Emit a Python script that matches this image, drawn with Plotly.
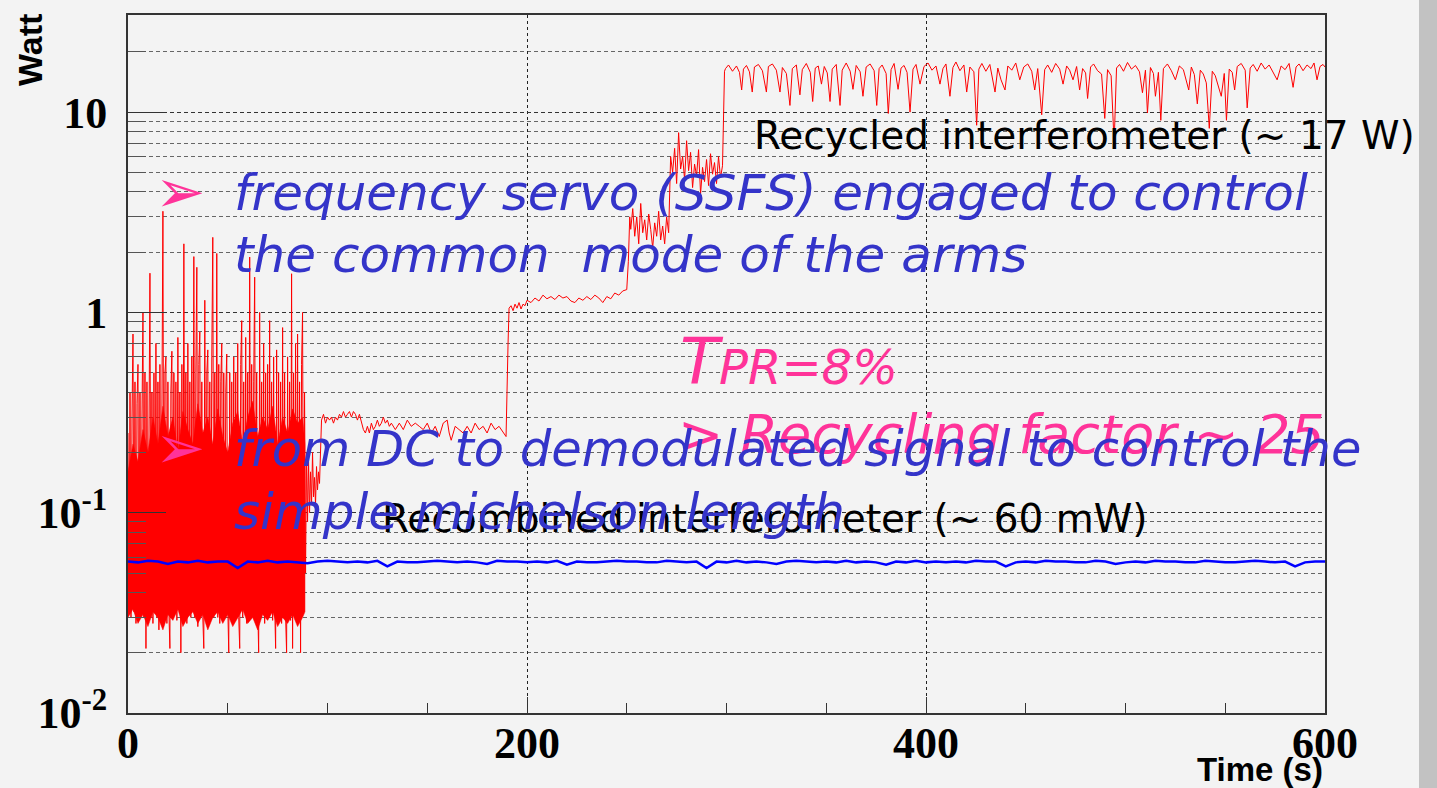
import plotly.graph_objects as go

# ---------------- data ----------------
# noisy start (0-89 s), sampled every 0.5 s
redA_t = [0, 0.5, 1, 1.5, 2, 2.5, 3, 3.5, 4, 4.5, 5, 5.5, 6, 6.5, 7, 7.5, 8, 8.5, 9, 9.5,
          10, 10.5, 11, 11.5, 12, 12.5, 13, 13.5, 14, 14.5, 15, 15.5, 16, 16.5, 17, 17.5, 18, 18.5, 19, 19.5,
          20, 20.5, 21, 21.5, 22, 22.5, 23, 23.5, 24, 24.5, 25, 25.5, 26, 26.5, 27, 27.5, 28, 28.5, 29, 29.5,
          30, 30.5, 31, 31.5, 32, 32.5, 33, 33.5, 34, 34.5, 35, 35.5, 36, 36.5, 37, 37.5, 38, 38.5, 39, 39.5,
          40, 40.5, 41, 41.5, 42, 42.5, 43, 43.5, 44, 44.5, 45, 45.5, 46, 46.5, 47, 47.5, 48, 48.5, 49, 49.5,
          50, 50.5, 51, 51.5, 52, 52.5, 53, 53.5, 54, 54.5, 55, 55.5, 56, 56.5, 57, 57.5, 58, 58.5, 59, 59.5,
          60, 60.5, 61, 61.5, 62, 62.5, 63, 63.5, 64, 64.5, 65, 65.5, 66, 66.5, 67, 67.5, 68, 68.5, 69, 69.5,
          70, 70.5, 71, 71.5, 72, 72.5, 73, 73.5, 74, 74.5, 75, 75.5, 76, 76.5, 77, 77.5, 78, 78.5, 79, 79.5,
          80, 80.5, 81, 81.5, 82, 82.5, 83, 83.5, 84, 84.5, 85, 85.5, 86, 86.5, 87, 87.5, 88, 88.5, 89]
redA_w = [0.25, 0.035, 0.4, 0.03, 0.3, 0.78, 0.032, 0.45, 0.028, 0.35, 0.55, 0.03, 0.4, 0.033, 0.3, 1.0, 0.03, 0.5, 0.021, 0.45,
          0.035, 0.6, 1.57, 0.03, 0.4, 0.028, 0.5, 0.034, 0.7, 0.03, 0.45, 0.026, 0.55, 0.035, 0.9, 3.2, 0.03, 0.5, 0.6, 0.028,
          0.45, 0.032, 0.021, 0.4, 0.64, 0.03, 0.5, 0.034, 0.45, 0.029, 0.75, 0.033, 0.4, 0.02, 0.55, 0.03, 2.2, 0.035, 0.5, 0.028,
          0.7, 0.032, 0.45, 0.03, 0.6, 0.034, 1.9, 0.03, 0.5, 1.68, 0.027, 0.55, 0.8, 0.032, 0.45, 0.03, 0.021, 1.15, 0.035, 0.5,
          0.65, 0.029, 0.45, 0.033, 0.6, 2.37, 0.03, 0.5, 0.034, 1.97, 0.03, 0.55, 0.028, 0.45, 0.7, 0.032, 0.5, 0.03, 0.4, 0.62,
          0.034, 0.02, 0.5, 0.03, 0.45, 0.033, 0.6, 0.029, 0.5, 0.035, 0.7, 0.03, 0.021, 0.55, 0.91, 0.03, 0.45, 0.032, 0.75, 0.028,
          0.5, 0.034, 1.89, 0.03, 0.55, 0.033, 0.45, 1.5, 0.029, 0.5, 0.035, 0.02, 1.0, 0.03, 0.45, 0.032, 0.7, 0.028, 0.5, 0.034,
          0.55, 0.03, 0.91, 0.033, 0.45, 0.029, 0.6, 0.035, 0.021, 0.65, 0.03, 0.5, 0.032, 0.45, 0.028, 0.84, 0.034, 0.5, 0.03, 0.02,
          0.6, 0.033, 0.45, 0.029, 1.56, 0.021, 0.5, 0.035, 0.7, 0.03, 0.78, 0.032, 0.45, 0.02, 0.55, 1.0, 0.034, 0.4, 0.05]

# dense core of the noisy start (ragged envelope)
core_t = [0, 2.5, 5, 7.5, 10, 12.5, 15, 17.5, 20, 22.5, 25, 27.5, 30, 32.5, 35, 37.5, 40, 42.5,
          45, 47.5, 50, 52.5, 55, 57.5, 60, 62.5, 65, 67.5, 70, 72.5, 75, 77.5, 80, 82.5, 85, 87.5, 88.7]
core_hi = [0.16, 0.22, 0.18, 0.26, 0.2, 0.3, 0.22, 0.34, 0.24, 0.3, 0.2, 0.32, 0.26, 0.22, 0.35, 0.25,
           0.3, 0.22, 0.33, 0.24, 0.2, 0.28, 0.32, 0.22, 0.3, 0.36, 0.24, 0.3, 0.26, 0.34, 0.22, 0.3,
           0.25, 0.33, 0.28, 0.3, 0.22]
core_lo = [0.03, 0.033, 0.028, 0.031, 0.027, 0.032, 0.03, 0.026, 0.031, 0.029, 0.033, 0.027, 0.03, 0.032,
           0.028, 0.031, 0.026, 0.03, 0.032, 0.028, 0.031, 0.027, 0.03, 0.033, 0.028, 0.03, 0.026, 0.031,
           0.029, 0.032, 0.027, 0.03, 0.028, 0.031, 0.027, 0.03, 0.032]

# after lock acquisition (89.5 s - 600 s)
redB_t = [89.5, 90, 90.5, 91, 91.5, 92, 92.5, 93, 93.5, 94, 94.5, 95, 95.5, 96, 96.5,
          97, 98, 99, 100, 101, 102, 103, 104, 105, 106, 107, 108, 109, 110, 111, 112, 113, 114, 115, 116,
          117, 118, 119, 120, 121, 122, 123, 124, 125, 126, 127, 128, 129, 130, 131, 132, 134, 136, 138, 140,
          142, 144, 146, 148, 150, 152, 154, 156, 158, 160, 161, 162, 164, 166, 168, 170, 172, 174, 176, 178,
          180, 182, 184, 186, 188, 189.5, 190.5, 191,
          192, 193, 194, 195, 196, 197, 198, 199, 200, 202, 204, 206, 208, 210, 212, 214, 216, 218, 220, 222,
          224, 226, 228, 230, 232, 234, 236, 238, 240, 242, 244, 246, 248, 250, 250.8, 251.5,
          252, 253, 254, 255, 256, 257, 258, 259, 260, 261, 262, 263, 264, 265, 266, 267, 268, 269, 270, 271, 272,
          273, 274, 275, 276, 277, 278, 279, 280, 281, 282, 283, 284, 285, 286, 287, 288, 289, 290, 291, 292,
          293, 294, 295, 296, 297, 298, 299,
          299.5, 301, 303, 305, 306.5, 307.6, 308.5, 310, 311.5, 312.9, 314, 316, 318, 320, 321, 323, 325, 326.8,
          328, 330, 331.8, 333, 335, 336.8, 338, 340, 342, 343.2, 344.5, 346, 347.6, 349, 350.5, 351.9, 353, 355,
          356.9, 358, 360, 362, 363.4, 365, 367, 368.4, 370, 372, 374, 375.3, 376.5, 378, 380, 381.1, 382.5, 384,
          386, 387.5, 389, 390.5, 392, 393.5, 395, 397, 399, 401, 403, 405, 407, 408.5, 410, 412, 413.5, 415,
          417, 419, 420.4, 422, 424, 425.4, 426.5, 428, 430, 432, 434.6, 436, 437.6, 439.6, 441, 443, 445, 447,
          449, 451, 453, 454.5, 456, 458, 459.5, 461, 463, 465, 467, 468.7, 470.5, 472, 473.7, 475.5, 477, 478.5,
          480, 481, 482.5, 484, 486, 488, 489.6, 491, 492.8, 494.3, 495.5, 497, 499, 501, 503, 505, 507, 508.5,
          510, 511, 512.5, 514, 515, 516.5, 517.7, 519, 521, 523, 525, 527, 529, 531.7, 533, 534.5, 536, 537.5,
          539, 540.5, 542, 543.5, 545, 546.5, 548, 549.5, 550.6, 552, 553.5, 554.7, 556, 558, 560, 561, 562.5,
          564, 566, 568, 570, 572, 574, 576, 578, 580, 582, 584, 585.5, 587, 589, 591, 593, 594.5, 596, 597.5,
          599, 600]
redB_w = [0.2, 0.09, 0.18, 0.1, 0.16, 0.11, 0.2, 0.12, 0.15, 0.11, 0.17, 0.13, 0.16, 0.14, 0.2,
          0.29, 0.31, 0.28, 0.3, 0.29, 0.3, 0.28, 0.3, 0.29, 0.31, 0.3, 0.32, 0.3, 0.31, 0.32, 0.3, 0.32, 0.31, 0.29, 0.31,
          0.28, 0.26, 0.25, 0.27, 0.25, 0.28, 0.26, 0.27, 0.29, 0.27, 0.28, 0.3, 0.28, 0.29, 0.27, 0.28, 0.26, 0.28, 0.26, 0.29,
          0.27, 0.28, 0.27, 0.26, 0.28, 0.25, 0.27, 0.24, 0.28, 0.29, 0.25, 0.23, 0.27, 0.26, 0.25, 0.27, 0.25, 0.28, 0.26, 0.27,
          0.25, 0.28, 0.26, 0.27, 0.25, 0.24, 0.7, 1.05,
          1.08, 1.02, 1.1, 1.05, 1.12, 1.04, 1.1, 1.08, 1.15, 1.12, 1.18, 1.14, 1.22, 1.17, 1.2, 1.16, 1.22, 1.18, 1.2, 1.14,
          1.12, 1.18, 1.15, 1.2, 1.16, 1.22, 1.18, 1.12, 1.2, 1.17, 1.25, 1.22, 1.28, 1.3, 1.8, 3.0,
          2.6, 3.3, 2.4, 3.0, 2.2, 3.5, 2.5, 2.9, 2.3, 3.1, 2.6, 2.1, 2.8, 2.4, 3.2, 2.3, 2.7, 2.2, 3.0, 2.5, 6.0,
          5.0, 6.6, 4.4, 7.9, 5.2, 6.0, 4.6, 7.2, 5.1, 6.3, 4.2, 5.5, 4.8, 6.5, 3.9, 5.3, 4.5, 5.8, 4.3, 6.2,
          4.9, 5.6, 4.4, 6.0, 4.7, 5.4, 16.0,
          16.5, 17.2, 16.0, 17.0, 15.8, 12.9, 16.4, 17.1, 15.9, 12.6, 16.8, 17.3, 16.1, 12.6, 16.9, 17.4, 16.2, 12.6,
          16.7, 15.6, 10.8, 16.5, 17.2, 12.2, 16.3, 17.5, 15.8, 11.3, 16.6, 17.0, 13.8, 16.9, 15.7, 11.3, 16.4, 17.3,
          10.8, 16.2, 17.6, 16.0, 13.0, 17.1, 15.9, 12.0, 16.8, 17.4, 16.1, 10.8, 16.5, 17.2, 15.6, 9.85, 16.3, 17.5,
          13.0, 16.6, 17.1, 15.8, 10.0, 16.4, 17.3, 13.8, 16.9, 17.6, 16.2, 17.0, 13.8, 16.5, 17.4, 12.0, 16.7, 17.8,
          16.1, 17.2, 12.6, 16.8, 15.9, 8.6, 16.4, 17.5, 16.0, 17.3, 12.6, 16.6, 14.5, 12.9, 17.0, 16.2, 17.6, 14.5,
          16.8, 17.4, 16.0, 12.9, 16.5, 9.7, 16.3, 17.2, 15.8, 17.5, 16.4, 13.8, 17.0, 16.2, 14.5, 16.9, 12.9, 16.5,
          15.7, 11.7, 16.8, 17.4, 16.1, 15.5, 9.3, 16.3, 15.2, 7.0, 16.6, 17.3, 16.0, 17.7, 16.4, 17.1, 15.9, 12.5,
          16.2, 9.9, 16.7, 15.6, 12.0, 15.8, 9.1, 16.5, 17.4, 16.1, 14.5, 17.0, 16.3, 12.9, 16.8, 15.4, 11.0, 16.2,
          15.5, 14.0, 8.3, 16.0, 15.2, 13.5, 12.0, 15.6, 9.1, 16.4, 15.8, 12.9, 16.9, 17.5, 16.2, 10.5, 16.6,
          17.3, 16.0, 17.6, 16.4, 17.2, 15.8, 14.5, 17.0, 16.3, 17.5, 13.3, 16.8, 17.4, 16.1, 17.2, 16.5, 17.6, 14.5, 16.9,
          17.3, 16.8]

# recombined interferometer (blue)
blue_t = [0, 5, 10, 15, 20, 25, 30, 35, 40, 45, 50, 55, 60, 65, 70, 75, 80, 85, 90, 95,
          100, 105, 110, 115, 120, 125, 130, 135, 140, 145, 150, 155, 160, 165, 170, 175, 180, 185, 190, 195,
          200, 205, 210, 215, 220, 225, 230, 235, 240, 245, 250, 255, 260, 265, 270, 275, 280, 285, 290, 295,
          300, 305, 310, 315, 320, 325, 330, 335, 340, 345, 350, 355, 360, 365, 370, 375, 380, 385, 390, 395,
          400, 405, 410, 415, 420, 425, 430, 435, 440, 445, 450, 455, 460, 465, 470, 475, 480, 485, 490, 495,
          500, 505, 510, 515, 520, 525, 530, 535, 540, 545, 550, 555, 560, 565, 570, 575, 580, 585, 590, 595, 600]
blue_w = [0.057, 0.0565, 0.0575, 0.057, 0.0555, 0.057, 0.0565, 0.0575, 0.0565, 0.057,
          0.057, 0.053, 0.057, 0.0565, 0.0575, 0.0565, 0.057, 0.0565, 0.056, 0.057,
          0.0575, 0.057, 0.0565, 0.057, 0.0565, 0.0575, 0.054, 0.057, 0.0565, 0.0565,
          0.057, 0.0575, 0.057, 0.0565, 0.057, 0.0565, 0.0555, 0.0575, 0.057, 0.057,
          0.0565, 0.057, 0.0565, 0.0575, 0.055, 0.057, 0.0565, 0.0565, 0.057, 0.0575,
          0.057, 0.057, 0.0565, 0.0565, 0.0575, 0.057, 0.0565, 0.057, 0.053, 0.057,
          0.0565, 0.0575, 0.0565, 0.057, 0.0565, 0.0555, 0.057, 0.0575, 0.057, 0.0565,
          0.057, 0.0565, 0.0575, 0.0565, 0.057, 0.0565, 0.055, 0.057, 0.0565, 0.0575,
          0.0565, 0.057, 0.0565, 0.057, 0.0565, 0.0575, 0.057, 0.057, 0.054, 0.0565,
          0.057, 0.0565, 0.0575, 0.057, 0.057, 0.0565, 0.0565, 0.0575, 0.057, 0.0555,
          0.0565, 0.057, 0.0565, 0.0575, 0.057, 0.057, 0.0565, 0.0565, 0.0575, 0.057,
          0.0565, 0.0565, 0.057, 0.0575, 0.057, 0.0565, 0.057, 0.054, 0.0565, 0.057,
          0.057]

x_major = [0, 200, 400, 600]
y_major = [0.01, 0.1, 1, 10]
y_major_text = ["10<sup>-2</sup>", "10<sup>-1</sup>", "1", "10"]

# ---------------- figure ----------------
W, H = 1437, 788
L, R, T, B = 128, 1325, 15, 713


def px(x):
    return (x - L) / (R - L)


def py(y):
    return (B - y) / (B - T)


BG = "#f3f3f3"
RED = "#ff0000"
BLUE_T = "#3434c9"
PINK = "#ff3399"

fig = go.Figure()

fig.add_trace(go.Scatter(
    x=core_t + core_t[::-1], y=core_hi + core_lo[::-1], mode="lines",
    fill="toself", fillcolor=RED, line=dict(width=0.5, color=RED),
    hoverinfo="skip", showlegend=False))
fig.add_trace(go.Scatter(x=redA_t, y=redA_w, mode="lines",
                         line=dict(color=RED, width=1), showlegend=False))
fig.add_trace(go.Scatter(x=[redA_t[-1]] + redB_t, y=[redA_w[-1]] + redB_w, mode="lines",
                         line=dict(color=RED, width=1), showlegend=False))
fig.add_trace(go.Scatter(x=blue_t, y=blue_w, mode="lines",
                         line=dict(color="#0000ff", width=2.5), showlegend=False))

minor_vals = [m * 10.0 ** e for e in (-2, -1, 0, 1) for m in range(2, 10)]
minor_vals = [v for v in minor_vals if v < 30]

fig.update_layout(
    width=W, height=H,
    margin=dict(l=L, r=W - R, t=T, b=H - B, pad=0),
    paper_bgcolor=BG, plot_bgcolor=BG,
    showlegend=False,
    xaxis=dict(
        range=[0, 600], tickmode="array", tickvals=x_major,
        ticks="inside", ticklen=16, tickwidth=1, tickcolor="#333",
        showgrid=True, gridcolor="#222", griddash="3px,3px", gridwidth=1,
        showline=True, linecolor="#333", linewidth=2, mirror=True,
        zeroline=False, ticklabelstandoff=-10,
        tickfont=dict(family="Liberation Serif", size=44, color="black", weight="bold"),
        minor=dict(tickmode="array", tickvals=list(range(50, 600, 50)), ticks="inside",
                   ticklen=10, tickwidth=1, tickcolor="#333", showgrid=False),
    ),
    yaxis=dict(
        type="log", range=[-2, 1.485], tickmode="array", tickvals=y_major,
        ticktext=y_major_text,
        ticks="inside", ticklen=38, tickwidth=1, tickcolor="#333",
        showgrid=True, gridcolor="#333", griddash="4px,3px", gridwidth=1,
        showline=True, linecolor="#333", linewidth=2, mirror=True,
        zeroline=False, ticklabelstandoff=10,
        tickfont=dict(family="Liberation Serif", size=44, color="black", weight="bold"),
        minor=dict(tickmode="array", tickvals=minor_vals, ticks="inside",
                   ticklen=18, tickwidth=1, tickcolor="#555",
                   showgrid=True, gridcolor="#666", griddash="4px,3px", gridwidth=1),
    ),
)

ann = []
# axis titles
ann.append(dict(text="<b>Watt</b>", x=px(30), y=py(50), textangle=-90,
                font=dict(family="Liberation Sans", size=34, color="black")))
ann.append(dict(text="<b>Time (s)</b>", x=px(1325), y=py(790), xanchor="right", yanchor="bottom",
                font=dict(family="Liberation Sans", size=33, color="black")))
# black labels
ann.append(dict(text="Recycled interferometer (~ 17 W)", x=px(752), y=py(135), xanchor="left",
                font=dict(family="DejaVu Sans", size=39, color="black")))
ann.append(dict(text="Recombined interferometer (~ 60 mW)", x=px(380), y=py(518), xanchor="left",
                font=dict(family="DejaVu Sans", size=39, color="black")))
# pink labels
ann.append(dict(text="<span style='font-size:64px'>T</span>PR=8%", x=px(678), y=py(362), xanchor="left",
                font=dict(family="DejaVu Sans", size=48, color=PINK, style="italic")))
ann.append(dict(text="> Recycling factor ~ 25", x=px(676), y=py(434), xanchor="left",
                font=dict(family="DejaVu Sans", size=54, color=PINK, style="italic")))
ann.append(dict(text="➢", x=px(180), y=py(191), font=dict(family="DejaVu Sans", size=60, color=PINK)))
ann.append(dict(text="➢", x=px(180), y=py(447), font=dict(family="DejaVu Sans", size=60, color=PINK)))
# blue labels
blue_font = dict(family="DejaVu Sans", size=50, color=BLUE_T, style="italic")
ann.append(dict(text="frequency servo (SSFS) engaged to control", x=px(232), y=py(193), xanchor="left", font=blue_font))
ann.append(dict(text="the common  mode of the arms", x=px(232), y=py(255), xanchor="left", font=blue_font))
ann.append(dict(text="from DC to demodulated signal to control the", x=px(232), y=py(449), xanchor="left",
                font=dict(family="DejaVu Sans", size=49.5, color=BLUE_T, style="italic")))
ann.append(dict(text="simple michelson length", x=px(232), y=py(512), xanchor="left", font=blue_font))

for a in ann:
    a.update(xref="paper", yref="paper", showarrow=False)
    a.setdefault("yanchor", "middle")
    a.setdefault("xanchor", "center")
fig.update_layout(annotations=ann)

# grey strip on the right edge of the slide
fig.add_shape(type="rect", xref="paper", yref="paper", x0=px(1419), x1=px(1440), y0=py(800), y1=py(-10),
              fillcolor="#c2c2c2", line=dict(width=0), layer="below")

fig.write_html("out.html")
